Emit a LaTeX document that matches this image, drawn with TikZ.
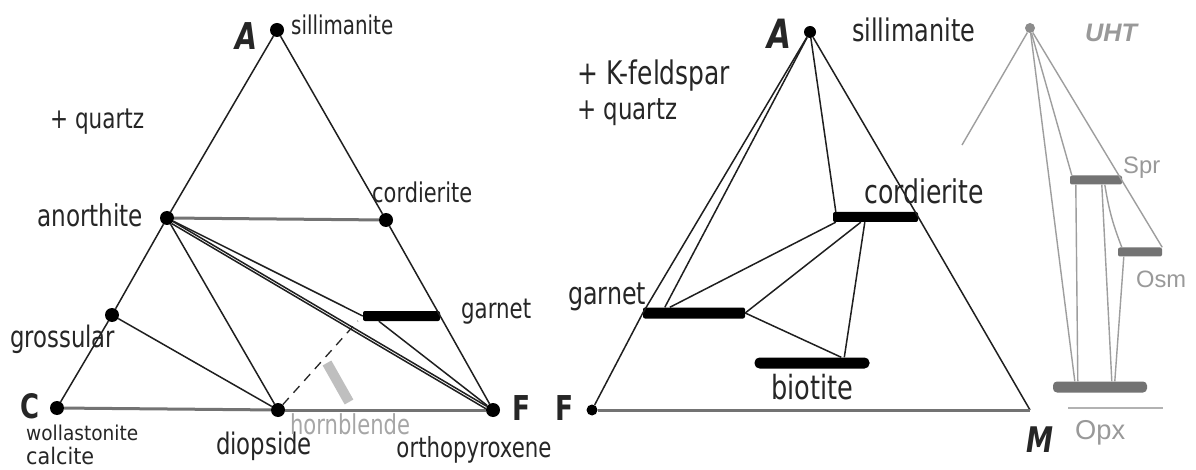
\documentclass[tikz,border=0pt]{standalone}
\usepackage{fontspec}
\setmainfont{DejaVu Sans}
\newfontfamily\uhtfont{Liberation Sans}
\usetikzlibrary{calc}
\newcommand{\fw}[2]{\resizebox{#1pt}{!}{\scalebox{1}[1.3]{#2}}}
\newcommand{\gw}[2]{\resizebox{#1pt}{!}{#2}}
\begin{document}
\begin{tikzpicture}[x=1pt,y=-1pt,
  dot/.style={circle,fill=black,inner sep=0pt,minimum size=14pt},
  bar/.style={rectangle,fill=black,inner sep=0pt,rounded corners=2pt},
  gbar/.style={rectangle,fill=black!55,inner sep=0pt,rounded corners=2pt},
  edge/.style={draw=black!88,line width=1.5pt},
  base/.style={draw=black!55,line width=3pt},
  gline/.style={draw=black!38,line width=1.4pt},
  lbl/.style={inner sep=0pt,text=black!85},
  glbl/.style={inner sep=0pt,text=black!40,font=\uhtfont}]
\useasboundingbox (0,0) rectangle (1196,470);
\fill[white] (0,0) rectangle (1196,470);

% ---------------- left triangle ----------------
\node[dot] (lA) at (277,30) {};
\node[dot] (lan) at (167,218) {};
\node[dot] (lgr) at (112,315) {};
\node[dot] (lC) at (57,408) {};
\node[dot] (ldi) at (278,410) {};
\node[dot] (lF) at (493,410) {};
\node[dot] (lco) at (386,220) {};
\node[bar,minimum width=77pt,minimum height=10pt] (lgar) at (401.5,316) {};

\draw[edge] (lA) -- (lan);
\draw[edge] (lan) -- (lgr);
\draw[edge] (lgr) -- (lC);
\draw[edge] (lA) -- (lco);
\draw[edge] (lco) -- (lgar.east);
\draw[edge] (lgar.east) -- (lF);
\draw[base] (lC) -- (ldi);
\draw[base] (ldi) -- (lF);
\draw[base] (lan) -- (lco);
\draw[edge] (lgr) -- (ldi);
\draw[edge] (lan) -- (ldi);
\draw[edge] (lan) -- (lgar.west);
\draw[edge] (lan) -- (lF);
\draw[edge] (lan.-50) -- (lF.170);
\draw[edge] ($(lgar.south west)+(16,0)$) -- (lF);
\draw[black!85,line width=1.3pt,dash pattern=on 9pt off 7pt] (ldi) -- ($(lgar.west)+(-5,5)$);
\coordinate (hb1) at (327,363);
\coordinate (hb2) at (349,402);
\draw[black!25,line width=10pt] (hb1) -- (hb2);

\node[lbl,font=\bfseries\itshape] (tA) at (246,36) {\fw{22}{A}};
\node[lbl,anchor=west] (tsil) at (291,25) {\fw{102}{sillimanite}};
\node[lbl,anchor=west] (tq) at (50,122) {\fw{94}{+ quartz}};
\node[lbl,anchor=west] (tan) at (37,215) {\fw{106}{anorthite}};
\node[lbl,anchor=west] (tco) at (372,192) {\fw{100}{cordierite}};
\node[lbl,anchor=west] (tga) at (461,312) {\fw{70}{garnet}};
\node[lbl,anchor=west] (tgr) at (10,339) {\fw{105}{grossular}};
\node[lbl,font=\bfseries] (tC) at (30,406) {\fw{19}{C}};
\node[lbl,font=\bfseries] (tF) at (521,408) {\fw{18}{F}};
\node[lbl,anchor=west] (two) at (26,433) {\gw{112}{\scalebox{1}[1.1]{wollastonite}}};
\node[lbl,anchor=west] (tca) at (26,456) {\gw{68}{\scalebox{1}[1.1]{calcite}}};
\node[lbl] (tdi) at (264,446) {\fw{96}{diopside}};
\node[lbl,text=black!35] (thb) at (350,424) {\fw{120}{hornblende}};
\node[lbl] (top) at (474,450) {\fw{155}{orthopyroxene}};

% ---------------- right triangle ----------------
\node[dot,minimum size=12pt] (rA) at (810,32) {};
\node[dot,minimum size=11pt] (rF) at (592,410) {};
\coordinate (rM) at (1030,410);
\node[bar,minimum width=85pt,minimum height=10pt] (rco) at (875.5,217) {};
\node[bar,minimum width=102pt,minimum height=11pt] (rga) at (694,313) {};
\node[bar,minimum width=115pt,minimum height=11pt,rounded corners=5pt] (rbi) at (812,363) {};

\draw[edge] (rA) -- (rga.west);
\draw[edge] (rga.west) -- (rF);
\draw[edge] (rA) -- (rco.east);
\draw[edge] (rco.east) -- (rM);
\draw[base] (rF) -- (rM);
\draw[edge] (rA) -- ($(rga.north west)+(22,0)$);
\draw[edge] (rA) -- ($(rco.north west)+(3,0)$);
\draw[edge] ($(rco.south west)+(3,0)$) -- ($(rga.north west)+(27,0)$);
\draw[edge] ($(rco.south west)+(28,0)$) -- (rga.east);
\draw[edge] ($(rco.south west)+(32,0)$) -- ($(rbi.north west)+(90,0)$);
\draw[edge] (rga.east) -- ($(rbi.north west)+(87,0)$);

\node[lbl,font=\bfseries\itshape] (rtA) at (779,34) {\fw{24}{A}};
\node[lbl,anchor=west] (rtsil) at (852,30) {\fw{123}{sillimanite}};
\node[lbl,anchor=west] (rtk) at (577,76) {\fw{153}{+ K-feldspar}};
\node[lbl,anchor=west] (rtq) at (577,112) {\fw{100}{+ quartz}};
\node[lbl,anchor=west] (rtco) at (864,191) {\fw{120}{cordierite}};
\node[lbl,anchor=west] (rtga) at (568,297) {\fw{78}{garnet}};
\node[lbl] (rtbi) at (812,387) {\fw{82}{biotite}};
\node[lbl,font=\bfseries] (rtF) at (564,408) {\fw{18}{F}};
\node[lbl,font=\bfseries\itshape] (rtM) at (1040,440) {\fw{27}{M}};

% ---------------- UHT ----------------
\node[dot,fill=black!45,minimum size=10pt] (u) at (1030,28) {};
\coordinate (ul) at (962,145);
\node[gbar,minimum width=52pt,minimum height=9pt] (spr) at (1096,180) {};
\node[gbar,minimum width=44pt,minimum height=9pt] (osm) at (1140,252) {};
\node[gbar,minimum width=94pt,minimum height=11pt,rounded corners=4pt] (opx) at (1100,387) {};
\coordinate (ox1) at (1068,408);
\coordinate (ox2) at (1163,408);

\draw[gline] (u) -- (ul);
\draw[gline] (u) -- ($(spr.north west)+(2,0)$);
\draw[gline] (u) -- ($(opx.north west)+(22,0)$);
\draw[gline] (u) -- (osm.north east);
\draw[gline] ($(spr.south west)+(6,0)$) -- ($(opx.north west)+(25,0)$);
\draw[gline] ($(spr.south west)+(32,0)$) -- ($(opx.north west)+(59,0)$);
\draw[gline] ($(spr.south west)+(35,0)$) to[bend right=6] ($(osm.north west)+(4,0)$);
\draw[gline] ($(osm.south west)+(6,0)$) -- ($(opx.north west)+(62,0)$);
\draw[black!30,line width=2pt] (ox1) -- (ox2);

\node[glbl,font=\uhtfont\bfseries\itshape] (tuht) at (1111,33) {\gw{52}{UHT}};
\node[glbl,anchor=west] (tspr) at (1123,168) {\gw{37}{Spr}};
\node[glbl,anchor=west] (tosm) at (1136,279) {\gw{50}{Osm}};
\node[glbl,anchor=west] (topx) at (1075,433) {\gw{50}{Opx}};
\end{tikzpicture}
\end{document}
